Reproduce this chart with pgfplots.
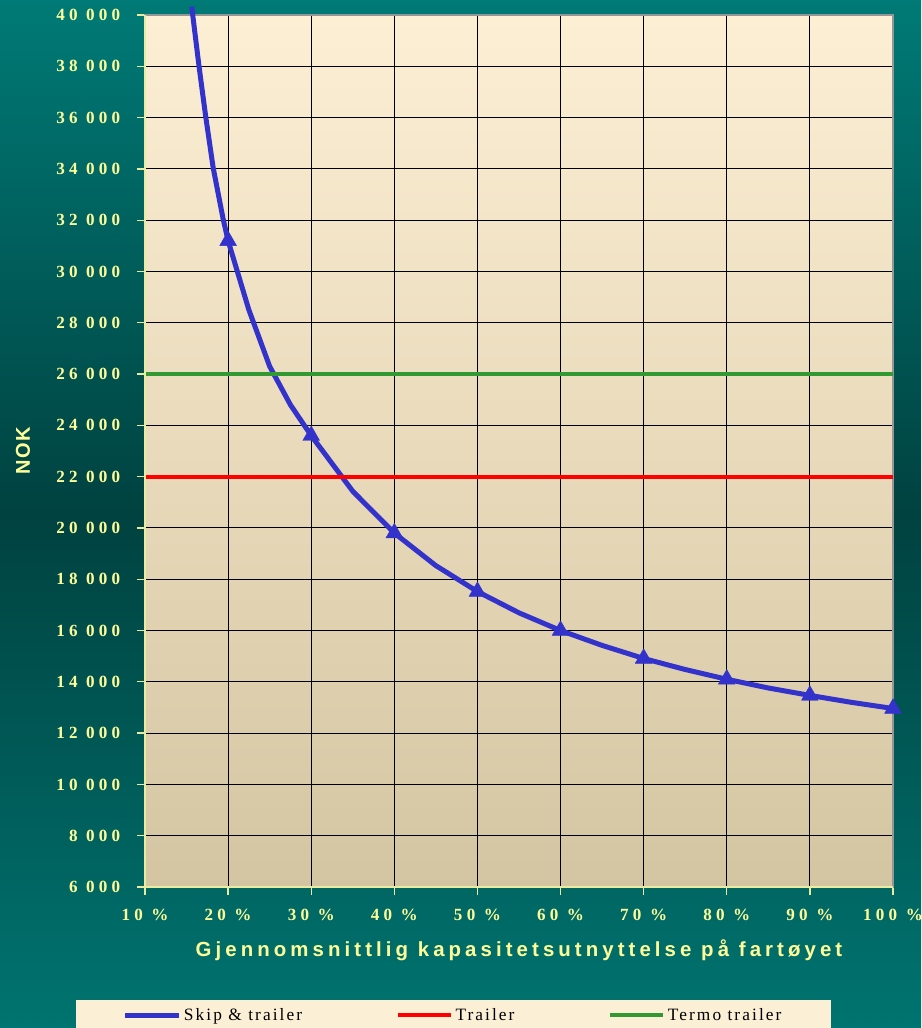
\documentclass[border=0pt]{standalone}
\usepackage{pgfplots}
\pgfplotsset{compat=1.18}
\usepackage{fontspec}
\setmainfont{Liberation Serif}
\newfontfamily\tickfont[LetterSpace=25]{Liberation Serif}
\newfontfamily\labfont[LetterSpace=20]{Liberation Sans}
\newfontfamily\nokfont[LetterSpace=8]{Liberation Sans}
\newfontfamily\legfont[LetterSpace=12]{Liberation Serif}
\definecolor{bgtop}{RGB}{0,122,118}
\definecolor{bgmid}{RGB}{0,66,64}
\definecolor{bgbot}{RGB}{0,116,112}
\definecolor{pltop}{RGB}{253,239,212}
\definecolor{plbot}{RGB}{212,197,162}
\definecolor{lab}{RGB}{255,255,153}
\definecolor{axyellow}{RGB}{235,235,160}
\definecolor{skip}{RGB}{51,51,204}
\definecolor{trail}{RGB}{255,0,0}
\definecolor{termo}{RGB}{51,153,51}
\definecolor{legbg}{RGB}{251,239,214}
\definecolor{frame}{RGB}{150,150,150}

\pgfplotstableread{
x y
15.62 40324
16.5 38000
17.3 36050
18.2 34050
19.4 32050
20 31200
22.5 28500
25 26300
27.5 24800
30 23600
35 21430
40 19800
45 18530
50 17520
55 16690
60 16000
65 15420
70 14910
75 14480
80 14100
85 13760
90 13470
95 13200
100 12960
}\skipdata

\begin{document}
\begin{tikzpicture}
\shade[top color=bgtop, bottom color=bgbot, middle color=bgmid] (-108.75pt,-105.75pt) rectangle (582pt,665.25pt);
\begin{axis}[
  scale only axis, width=561pt, height=654pt,
  at={(0,0)}, anchor=south west,
  xmin=10, xmax=100, ymin=6000, ymax=40000,
  clip=false,
  axis background/.style={shade, top color=pltop, bottom color=plbot},
  axis line style={frame, line width=1.5pt},
  xtick={10,20,...,100},
  ytick={6000,8000,...,40000},
  xticklabels={10 \%,20 \%,30 \%,40 \%,50 \%,60 \%,70 \%,80 \%,90 \%,100 \%},
  yticklabels={6 000,8 000,10 000,12 000,14 000,16 000,18 000,20 000,22 000,24 000,26 000,28 000,30 000,32 000,34 000,36 000,38 000,40 000},
  tick pos=left, tick align=outside, major tick length=6pt,
  tick style={axyellow, line width=1pt},
  grid=major,
  major grid style={black, line width=0.75pt},
  xticklabel style={font=\tickfont\bfseries\fontsize{12.8}{15}\selectfont, text=lab, yshift=-7pt},
  yticklabel style={font=\tickfont\bfseries\fontsize{12.8}{15}\selectfont, text=lab, xshift=-9pt, inner ysep=0pt},
  xlabel={Gjennomsnittlig kapasitetsutnyttelse på fartøyet},
  xlabel style={at={(axis description cs:0.5,-0.0722)}, anchor=center, font=\labfont\bfseries\fontsize{15.3}{18}\selectfont, text=lab},
  ylabel={NOK},
  ylabel style={at={(axis description cs:-0.163,0.5)}, anchor=center, font=\nokfont\bfseries\fontsize{15}{18}\selectfont, text=lab},
  legend columns=3,
  legend cell align=left,
  legend image code/.code={\draw[mark repeat=2,mark phase=2,#1] plot coordinates {(0pt,0pt) (20pt,0pt) (40pt,0pt)};},
  legend style={at={(axis description cs:-0.0922,-0.1296)}, anchor=north west, fill=legbg, draw=none,
    inner xsep=35pt, inner ysep=4pt, font=\legfont\fontsize{13}{15}\selectfont, text=black,
    /tikz/every even column/.append style={column sep=68pt}},
]
\addplot[skip, line width=3.75pt, line join=round, mark=triangle*, mark size=7.3pt,
  mark indices={6,10,12,14,16,18,20,22,24},
  mark options={solid, fill=skip, draw=skip, line width=0.3pt}] table[x=x,y=y] {\skipdata};
\addlegendentry{Skip \& trailer}
\addplot[trail, line width=3pt] coordinates {(10,22000) (100,22000)};
\addlegendentry{Trailer}
\addplot[termo, line width=3pt] coordinates {(10,26000) (100,26000)};
\addlegendentry{Termo trailer}
\draw[axyellow, line width=1.5pt] (rel axis cs:0,1) -- (rel axis cs:0,0) -- (rel axis cs:1,0);
\end{axis}
\pgfresetboundingbox
\useasboundingbox (-108.75pt,-105.75pt) rectangle (582pt,665.25pt);
\end{tikzpicture}
\end{document}
